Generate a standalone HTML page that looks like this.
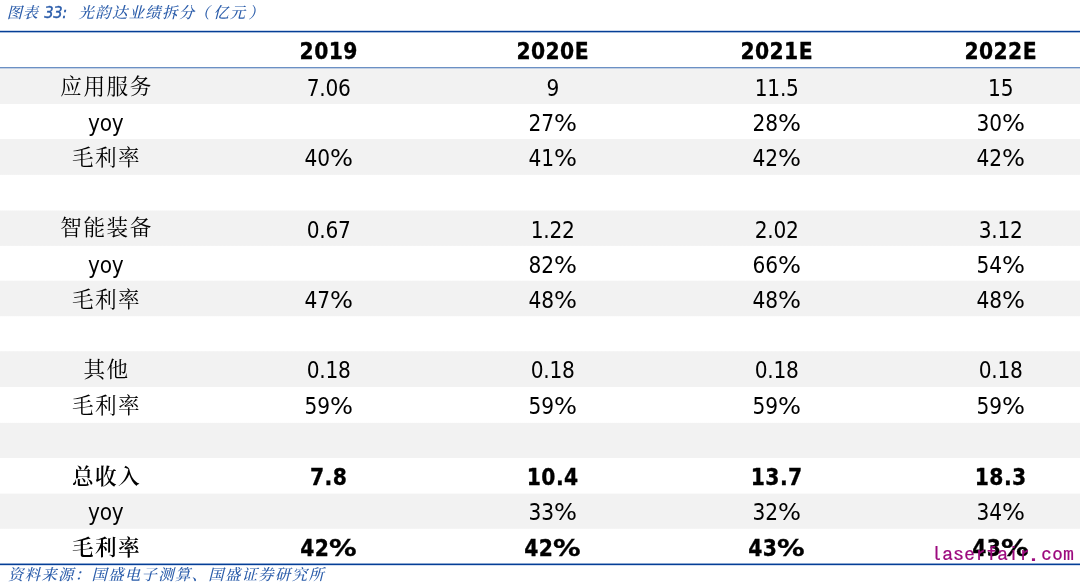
<!DOCTYPE html>
<html lang="zh-CN">
<head>
<meta charset="utf-8">
<title>图表 33: 光韵达业绩拆分（亿元）</title>
<style>
  html, body { margin: 0; padding: 0; }
  body {
    width: 1080px; height: 586px; overflow: hidden; position: relative;
    background: #ffffff; color: #000;
    font-family: "DejaVu Sans Condensed", "Liberation Sans", "Noto Sans CJK SC", sans-serif;
  }
  .page { position: absolute; left: 0; top: 0; width: 1080px; height: 586px; overflow: hidden; will-change: transform; }
  .bands { position: absolute; left: 0; top: 0; width: 1080px; height: 586px; background: linear-gradient(to bottom, #ffffff 0.00px, #ffffff 68.60px, #f2f2f2 68.60px, #f2f2f2 103.50px, #ffffff 104.50px, #ffffff 138.50px, #f2f2f2 139.50px, #f2f2f2 174.40px, #ffffff 175.40px, #ffffff 210.00px, #f2f2f2 211.00px, #f2f2f2 245.40px, #ffffff 246.40px, #ffffff 280.20px, #f2f2f2 281.20px, #f2f2f2 315.70px, #ffffff 316.70px, #ffffff 350.70px, #f2f2f2 351.70px, #f2f2f2 386.50px, #ffffff 387.50px, #ffffff 422.40px, #f2f2f2 423.40px, #f2f2f2 457.50px, #ffffff 458.50px, #ffffff 493.10px, #f2f2f2 494.10px, #f2f2f2 528.30px, #ffffff 529.30px, #ffffff 586.00px); }
  .title, .source {
    position: absolute; white-space: nowrap;
    font-family: "Liberation Sans", "Noto Serif CJK SC", serif;
    font-style: italic; color: #2a5caa; font-size: 15.4px; line-height: 20px; font-weight: 500; letter-spacing: 1.3px;
  }
  .title { top: 2.8px; left: 6.8px; }
  .title .n { font-family: "DejaVu Sans Condensed", "Liberation Sans", sans-serif; font-weight: 400; font-size: 16.4px; letter-spacing: -0.3px; margin-left: 0.2px; -webkit-text-stroke: 0.35px #2a5caa; }
  .title .h { letter-spacing: 0.4px; }
  .title .t { margin-left: 11.6px; }
  .title .pl { margin-left: -1.2px; margin-right: 2.2px; }
  .title .pr { margin-left: 2px; }
  .source { top: 564.6px; left: 8px; }
  .ln { position: absolute; left: 0; width: 1080px; height: 1px; }
  .row { position: absolute; left: 0; width: 1080px; height: 35.42px; }
  .c { position: absolute; top: 0; height: 100%; width: 240px; margin-left: -120px; text-align: center; white-space: nowrap;
       font-size: 22.4px; line-height: 38.12px; letter-spacing: -0.2px; }
  .c0 { left: 105.8px; }
  .c1 { left: 328.7px; }
  .c2 { left: 552.7px; }
  .c3 { left: 776.7px; }
  .c4 { left: 1000.7px; }
  .zh { font-family: "Noto Serif CJK SC", serif; font-size: 21.6px; font-weight: 400; letter-spacing: 1.5px;
        line-height: 33.02px; text-indent: 1.5px; }
  .zh.zb { font-weight: 600; }
  .b { font-weight: 700; font-size: 22.6px; letter-spacing: 0.4px; -webkit-text-stroke: 0.3px #000; }
  .p { display: inline-block; font-family: "DejaVu Sans", "Liberation Sans", sans-serif; letter-spacing: 0;
       transform-origin: 0 50%; transform: scaleX(1.08); width: 22.98px; text-align: left; }
  .b .p { transform: scaleX(1.22); width: 27.63px; }
  .wm { position: absolute; left: 931.0px; top: 542.3px; -webkit-text-stroke: 0.15px #9c0a7e; font-family: "IPAGothic", "Liberation Mono", monospace;
        font-size: 19.4px; line-height: 24px; color: #9c0a7e; white-space: nowrap;
        transform-origin: 0 50%; transform: scaleX(1.134); }
</style>
</head>
<body>
<div class="page">
  <div class="bands"></div>
  <div class="title"><span class="h">图表</span> <span class="n">33:</span><span class="t">光韵达业绩拆分<span class="pl">（</span>亿元<span class="pr">）</span></span></div>
  <div class="ln" style="top:30px;background:#c9d6ea"></div>
  <div class="ln" style="top:31px;background:#053e96"></div>
  <div class="ln" style="top:32px;background:#a5bbdc"></div>

  <div class="row" style="top:32.38px">
    <div class="c c1 b">2019</div><div class="c c2 b">2020E</div><div class="c c3 b">2021E</div><div class="c c4 b">2022E</div>
  </div>
  <div class="ln" style="top:67px;background:#6b90c4"></div>
  <div class="ln" style="top:68px;background:#c3d0e3"></div>
  <div class="row" style="top:68.60px"><div class="c c0 zh" style="top:-1.0px">应用服务</div><div class="c c1">7.06</div><div class="c c2">9</div><div class="c c3">11.5</div><div class="c c4">15</div></div>
  <div class="row" style="top:104.00px"><div class="c c0">yoy</div><div class="c c2">27<span class="p">%</span></div><div class="c c3">28<span class="p">%</span></div><div class="c c4">30<span class="p">%</span></div></div>
  <div class="row" style="top:139.00px"><div class="c c0 zh">毛利率</div><div class="c c1">40<span class="p">%</span></div><div class="c c2">41<span class="p">%</span></div><div class="c c3">42<span class="p">%</span></div><div class="c c4">42<span class="p">%</span></div></div>
  <div class="row" style="top:174.90px"></div>
  <div class="row" style="top:210.50px"><div class="c c0 zh" style="top:-1.4px">智能装备</div><div class="c c1">0.67</div><div class="c c2">1.22</div><div class="c c3">2.02</div><div class="c c4">3.12</div></div>
  <div class="row" style="top:245.90px"><div class="c c0">yoy</div><div class="c c2">82<span class="p">%</span></div><div class="c c3">66<span class="p">%</span></div><div class="c c4">54<span class="p">%</span></div></div>
  <div class="row" style="top:280.70px"><div class="c c0 zh">毛利率</div><div class="c c1">47<span class="p">%</span></div><div class="c c2">48<span class="p">%</span></div><div class="c c3">48<span class="p">%</span></div><div class="c c4">48<span class="p">%</span></div></div>
  <div class="row" style="top:316.20px"></div>
  <div class="row" style="top:351.20px"><div class="c c0 zh" style="top:-0.6px">其他</div><div class="c c1">0.18</div><div class="c c2">0.18</div><div class="c c3">0.18</div><div class="c c4">0.18</div></div>
  <div class="row" style="top:387.00px"><div class="c c0 zh">毛利率</div><div class="c c1">59<span class="p">%</span></div><div class="c c2">59<span class="p">%</span></div><div class="c c3">59<span class="p">%</span></div><div class="c c4">59<span class="p">%</span></div></div>
  <div class="row" style="top:422.90px"></div>
  <div class="row" style="top:458.00px"><div class="c c0 zh zb">总收入</div><div class="c c1 b">7.8</div><div class="c c2 b">10.4</div><div class="c c3 b">13.7</div><div class="c c4 b">18.3</div></div>
  <div class="row" style="top:493.00px"><div class="c c0">yoy</div><div class="c c2">33<span class="p">%</span></div><div class="c c3">32<span class="p">%</span></div><div class="c c4">34<span class="p">%</span></div></div>
  <div class="row" style="top:528.80px"><div class="c c0 zh zb">毛利率</div><div class="c c1 b">42<span class="p">%</span></div><div class="c c2 b">42<span class="p">%</span></div><div class="c c3 b">43<span class="p">%</span></div><div class="c c4 b">43<span class="p">%</span></div></div>

  <div class="ln" style="top:563px;background:#8aa6d1"></div>
  <div class="ln" style="top:564px;background:#053e96"></div>
  <div class="ln" style="top:565px;background:#d3ddee"></div>
  <div class="wm">laserfair.com</div>
  <div class="source">资料来源：国盛电子测算、国盛证券研究所</div>
</div>
</body>
</html>
